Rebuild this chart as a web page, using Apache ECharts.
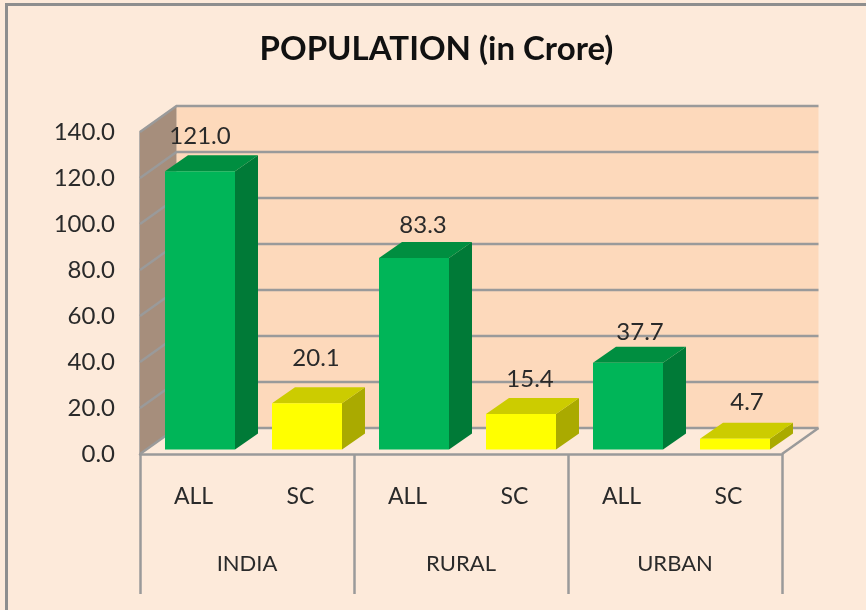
<!DOCTYPE html>
<html><head><meta charset="utf-8">
<style>html,body{margin:0;padding:0;background:#FDEADA}#c{width:866px;height:610px}</style>
<script src="https://cdn.jsdelivr.net/npm/echarts@6/dist/echarts.min.js"></script>
</head><body><div id="c"></div>
<script>
const barLabels = ['ALL','SC','ALL','SC','ALL','SC'];
const groups = ['INDIA','RURAL','URBAN'];
const values = [121.0,20.1,83.3,15.4,37.7,4.7];
const yTicks = [0,20,40,60,80,100,120,140];

const FONT='Lato, "Open Sans", sans-serif';
const TXT='#2a2a2a', GRID='#9A9A9A';
const WALL_D=[36.5,-26], BAR_D=[23,-16], BAR_SHIFT=[6.5,-4.5], BAR_W=70;
const labelNudge=[[0,-35],[9,-45],[9,-33],[9,-35],[12,-31],[12,-36]];
const barColors=[['#00B558','#008E40','#007A37'],['#FFFF00','#CCCC00','#AAAA00']];

function wallItem(params){
  const c=params.coordSys, x0=c.x, x1=c.x+c.width, y0=c.y, y1=c.y+c.height;
  const [dx,dy]=WALL_D;
  return {type:'group',children:[
    {type:'polygon',shape:{points:[[x0+dx,y0+dy],[x1+dx,y0+dy],[x1+dx,y1+dy],[x0+dx,y1+dy]]},style:{fill:'#FDD9BB'}},
    {type:'polygon',shape:{points:[[x0,y0],[x0+dx,y0+dy],[x0+dx,y1+dy],[x0,y1]]},style:{fill:'#A68E7C'}},
    {type:'polyline',shape:{points:[[x1,y1],[x1+dx,y1+dy]]},style:{stroke:GRID,lineWidth:2.5,fill:null}}
  ]};
}
function gridItem(params,api){
  const c=params.coordSys, y=api.coord([0,api.value(1)])[1];
  const [dx,dy]=WALL_D;
  return {type:'polyline',shape:{points:[[c.x,y],[c.x+dx,y+dy],[c.x+c.width+dx,y+dy]]},
    style:{stroke:GRID,lineWidth:2.5,fill:null}};
}
function barItem(params,api){
  const i=params.dataIndex, v=api.value(1);
  const top=api.coord([api.value(0),v]), bot=api.coord([api.value(0),0]);
  const [sx,sy]=BAR_SHIFT,[dx,dy]=BAR_D;
  const l=top[0]+sx-BAR_W/2, r=l+BAR_W, t=top[1]+sy, b=bot[1]+sy;
  const [front,upper,side]=barColors[i%2];
  const [nx,ny]=labelNudge[i];
  return {type:'group',children:[
    {type:'polygon',shape:{points:[[r,t],[r+dx,t+dy],[r+dx,b+dy],[r,b]]},style:{fill:side}},
    {type:'polygon',shape:{points:[[l,t],[l+dx,t+dy],[r+dx,t+dy],[r,t]]},style:{fill:upper}},
    {type:'rect',shape:{x:l,y:t,width:BAR_W,height:b-t},style:{fill:front}},
    {type:'text',x:l+BAR_W/2+nx,y:t+ny,style:{text:v.toFixed(1),fill:TXT,font:'24px '+FONT,align:'center',verticalAlign:'middle'}}
  ]};
}
const chart=echarts.init(document.getElementById('c'),null,{renderer:'canvas'});
chart.setOption({
  backgroundColor:'#FDEADA',
  animation:false,
  title:{text:'POPULATION (in Crore)',left:431.5,top:28,textAlign:'center',
    textStyle:{fontFamily:FONT,fontSize:33,fontWeight:'bold',color:'#111111'}},
  graphic:[{type:'polyline',silent:true,shape:{points:[[6.5,610],[6.5,4.5],[866,4.5]]},style:{stroke:'#8E8E8E',lineWidth:3,fill:null}}],
  grid:{left:140,top:132,width:642,height:322},
  xAxis:[
    {type:'category',data:barLabels,position:'bottom',
      axisLine:{show:true,lineStyle:{color:GRID,width:2.5}},axisTick:{show:false},
      axisLabel:{interval:0,margin:31,fontFamily:FONT,fontSize:23,color:TXT},splitLine:{show:false}},
    {type:'category',data:groups,position:'bottom',
      axisLine:{show:false},axisTick:{show:true,length:140,lineStyle:{color:GRID,width:2.5}},
      axisLabel:{interval:0,margin:99,fontFamily:FONT,fontSize:22,color:TXT},splitLine:{show:false}}
  ],
  yAxis:{type:'value',min:0,max:140,interval:20,
    axisLine:{show:true,lineStyle:{color:GRID,width:2.5}},axisTick:{show:false},splitLine:{show:false},
    axisLabel:{margin:25,fontFamily:FONT,fontSize:24,color:TXT,padding:[6,0,0,0],formatter:v=>v.toFixed(1)}},
  series:[
    {type:'custom',name:'walls',z:1,silent:true,renderItem:wallItem,data:[[0,0]],encode:{x:0,y:1}},
    {type:'custom',name:'gridlines',z:2,silent:true,renderItem:gridItem,data:yTicks.map(v=>[0,v]),encode:{x:0,y:1}},
    {type:'custom',name:'bars',z:3,renderItem:barItem,data:values.map((v,i)=>[i,v]),encode:{x:0,y:1}}
  ]
});
</script></body></html>
